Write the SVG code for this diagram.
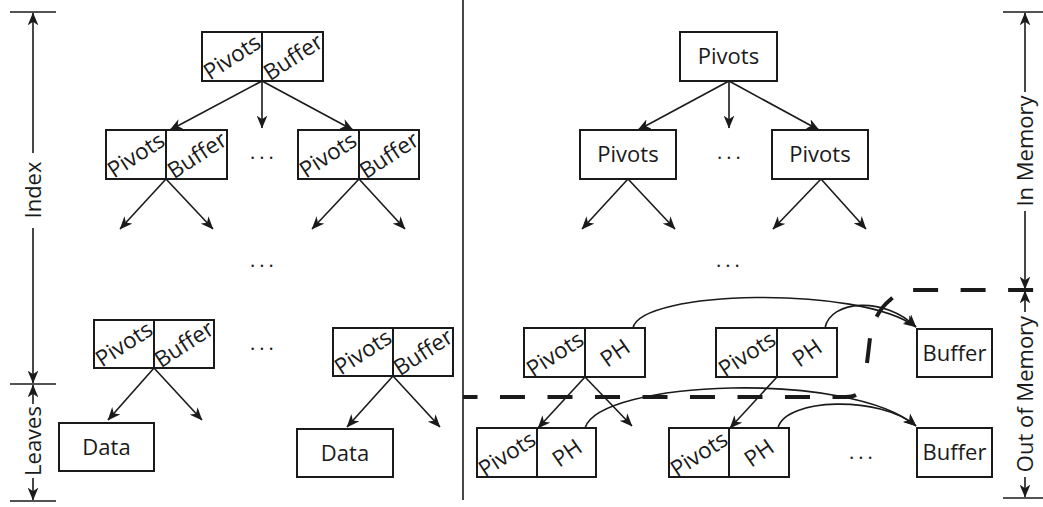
<svg xmlns="http://www.w3.org/2000/svg" width="1043" height="507" viewBox="0 0 1043 507">
  <defs>
    <marker id="arrow" viewBox="0 0 12 10" refX="11.5" refY="5" markerWidth="13" markerHeight="11" markerUnits="userSpaceOnUse" orient="auto">
      <path d="M0,0 L12,5 L0,10 L3.5,5 Z" fill="#1a1a1a"/>
    </marker>
    <style>
      .box { fill: #fff; stroke: #1a1a1a; stroke-width: 2; }
      .div { stroke: #1a1a1a; stroke-width: 2; }
      .edge { fill: none; stroke: #1a1a1a; stroke-width: 1.6; marker-end: url(#arrow); }
      .rule { fill: none; stroke: #1a1a1a; stroke-width: 1.6; }
      .dash { fill: none; stroke: #1a1a1a; stroke-width: 4; stroke-dasharray: 25 22.5; }
      .t { font-family: "Open Sans", "Liberation Sans", sans-serif; font-size: 22px; fill: #1a1a1a; text-anchor: middle; }
      .r { font-size: 22.5px; }
      .lbl { font-family: "Open Sans", "Liberation Sans", sans-serif; font-size: 22px; fill: #1a1a1a; text-anchor: middle; }
      .dots { font-family: "Open Sans", "Liberation Sans", sans-serif; font-size: 20px; fill: #1a1a1a; text-anchor: middle; letter-spacing: 4px; }
    </style>
  </defs>

  <!-- separator between the two layouts -->
  <line class="rule" x1="463" y1="0" x2="463" y2="500" stroke-width="2"/>

  <!-- left scale: Index / Leaves -->
  <g id="scale-left">
    <line class="rule" x1="10" y1="12" x2="56" y2="12"/>
    <line class="rule" x1="10" y1="384" x2="56" y2="384"/>
    <line class="rule" x1="10" y1="501" x2="56" y2="501"/>
    <line class="edge" x1="33" y1="153" x2="33" y2="13"/>
    <line class="edge" x1="33" y1="228" x2="33" y2="383"/>
    <line class="edge" x1="33" y1="404" x2="33" y2="385"/>
    <line class="edge" x1="33" y1="478" x2="33" y2="500"/>
    <text class="lbl" transform="translate(41,190) rotate(-90)">Index</text>
    <text class="lbl" transform="translate(41,441) rotate(-90)">Leaves</text>
  </g>

  <!-- right scale: In Memory / Out of Memory -->
  <g id="scale-right">
    <line class="rule" x1="1003" y1="12" x2="1043" y2="12"/>
    <line class="rule" x1="1003" y1="498" x2="1043" y2="498"/>
    <line class="edge" x1="1025" y1="92" x2="1025" y2="13"/>
    <line class="edge" x1="1025" y1="211" x2="1025" y2="289"/>
    <line class="edge" x1="1025" y1="312" x2="1025" y2="291"/>
    <line class="edge" x1="1025" y1="477" x2="1025" y2="497"/>
    <text class="lbl" transform="translate(1033,151) rotate(-90)">In Memory</text>
    <text class="lbl" transform="translate(1033,394) rotate(-90)">Out of Memory</text>
  </g>

  <!-- memory boundary -->
  <g id="memory-boundary">
    <path class="dash" stroke-dashoffset="10.5" d="M463,397 L846,397 Q852,397 856,395"/>
    <path class="dash" stroke-dasharray="23 22" d="M867,363 L870,338 C872,322 880,308 890,300 C896,294 903,290 912,290 L1043,290"/>
  </g>

  <!-- connectors -->
  <g id="connectors">
    <!-- left tree -->
    <line class="edge" x1="262" y1="81" x2="170" y2="130"/>
    <line class="edge" x1="262" y1="81" x2="262" y2="128"/>
    <line class="edge" x1="262" y1="81" x2="353" y2="130"/>
    <line class="edge" x1="166" y1="179" x2="120" y2="229"/>
    <line class="edge" x1="166" y1="179" x2="213" y2="229"/>
    <line class="edge" x1="359" y1="179" x2="312" y2="229"/>
    <line class="edge" x1="359" y1="179" x2="405" y2="229"/>
    <line class="edge" x1="154" y1="368" x2="108" y2="420"/>
    <line class="edge" x1="154" y1="368" x2="202" y2="420"/>
    <line class="edge" x1="393" y1="376" x2="347" y2="427"/>
    <line class="edge" x1="393" y1="376" x2="440" y2="427"/>
    <!-- right tree -->
    <line class="edge" x1="729" y1="81" x2="638" y2="130"/>
    <line class="edge" x1="729" y1="81" x2="729" y2="128"/>
    <line class="edge" x1="729" y1="81" x2="819" y2="130"/>
    <line class="edge" x1="628" y1="179" x2="582" y2="229"/>
    <line class="edge" x1="628" y1="179" x2="675" y2="229"/>
    <line class="edge" x1="821" y1="179" x2="773" y2="229"/>
    <line class="edge" x1="821" y1="179" x2="866" y2="229"/>
    <line class="edge" x1="585" y1="377" x2="538" y2="428"/>
    <line class="edge" x1="585" y1="377" x2="632" y2="426"/>
    <line class="edge" x1="777" y1="377" x2="730" y2="428"/>
    <!-- placeholders to buffers -->
    <path class="edge" d="M633,328 C640,290 860,285 916,327"/>
    <path class="edge" d="M825,328 C830,300 885,296 916,327"/>
    <path class="edge" d="M585,428 C600,380 850,370 916,426"/>
    <path class="edge" d="M778,428 C785,398 880,395 916,426"/>
  </g>

  <!-- left layout nodes -->
  <g id="root-left">
    <rect class="box" x="202" y="32" width="121" height="49"/>
    <line class="div" x1="262" y1="32" x2="262" y2="81"/>
    <text class="t r" transform="translate(232,57) rotate(-33)" dy="0.35em">Pivots</text>
    <text class="t r" transform="translate(293,57) rotate(-33)" dy="0.35em">Buffer</text>
  </g>
  <g id="mid-left-a">
    <rect class="box" x="106" y="130" width="121" height="49"/>
    <line class="div" x1="166" y1="130" x2="166" y2="179"/>
    <text class="t r" transform="translate(136,155) rotate(-33)" dy="0.35em">Pivots</text>
    <text class="t r" transform="translate(197,155) rotate(-33)" dy="0.35em">Buffer</text>
  </g>
  <g id="mid-left-b">
    <rect class="box" x="298" y="130" width="121" height="49"/>
    <line class="div" x1="359" y1="130" x2="359" y2="179"/>
    <text class="t r" transform="translate(328,155) rotate(-33)" dy="0.35em">Pivots</text>
    <text class="t r" transform="translate(389,155) rotate(-33)" dy="0.35em">Buffer</text>
  </g>
  <g id="low-left-a">
    <rect class="box" x="94" y="320" width="120" height="48"/>
    <line class="div" x1="154" y1="320" x2="154" y2="368"/>
    <text class="t r" transform="translate(124,344) rotate(-33)" dy="0.35em">Pivots</text>
    <text class="t r" transform="translate(184,344) rotate(-33)" dy="0.35em">Buffer</text>
  </g>
  <g id="low-left-b">
    <rect class="box" x="333" y="328" width="120" height="48"/>
    <line class="div" x1="393" y1="328" x2="393" y2="376"/>
    <text class="t r" transform="translate(363,352) rotate(-33)" dy="0.35em">Pivots</text>
    <text class="t r" transform="translate(423,352) rotate(-33)" dy="0.35em">Buffer</text>
  </g>
  <g id="data-a">
    <rect class="box" x="59" y="423" width="95" height="48"/>
    <text class="t" x="106.5" y="447" dy="0.35em">Data</text>
  </g>
  <g id="data-b">
    <rect class="box" x="297" y="429" width="96" height="48"/>
    <text class="t" x="345" y="453" dy="0.35em">Data</text>
  </g>

  <!-- right layout nodes -->
  <g id="root-right">
    <rect class="box" x="680" y="32" width="97" height="49"/>
    <text class="t" x="728.5" y="56.5" dy="0.35em">Pivots</text>
  </g>
  <g id="mid-right-a">
    <rect class="box" x="580" y="130" width="96" height="49"/>
    <text class="t" x="628" y="154.5" dy="0.35em">Pivots</text>
  </g>
  <g id="mid-right-b">
    <rect class="box" x="772" y="130" width="96" height="49"/>
    <text class="t" x="820" y="154.5" dy="0.35em">Pivots</text>
  </g>
  <g id="ph-1a">
    <rect class="box" x="524" y="328" width="121" height="49"/>
    <line class="div" x1="585" y1="328" x2="585" y2="377"/>
    <text class="t r" transform="translate(555,354) rotate(-33)" dy="0.35em">Pivots</text>
    <text class="t r" transform="translate(615,353) rotate(-35)" dy="0.35em">PH</text>
  </g>
  <g id="ph-1b">
    <rect class="box" x="716" y="328" width="121" height="49"/>
    <line class="div" x1="777" y1="328" x2="777" y2="377"/>
    <text class="t r" transform="translate(747,354) rotate(-33)" dy="0.35em">Pivots</text>
    <text class="t r" transform="translate(807,353) rotate(-35)" dy="0.35em">PH</text>
  </g>
  <g id="buffer-1">
    <rect class="box" x="917" y="329" width="75" height="48"/>
    <text class="t" x="954.5" y="353" dy="0.35em">Buffer</text>
  </g>
  <g id="ph-2a">
    <rect class="box" x="477" y="428" width="119" height="49"/>
    <line class="div" x1="537" y1="428" x2="537" y2="477"/>
    <text class="t r" transform="translate(507,454) rotate(-33)" dy="0.35em">Pivots</text>
    <text class="t r" transform="translate(567,453) rotate(-35)" dy="0.35em">PH</text>
  </g>
  <g id="ph-2b">
    <rect class="box" x="669" y="428" width="120" height="49"/>
    <line class="div" x1="729" y1="428" x2="729" y2="477"/>
    <text class="t r" transform="translate(699,454) rotate(-33)" dy="0.35em">Pivots</text>
    <text class="t r" transform="translate(759,453) rotate(-35)" dy="0.35em">PH</text>
  </g>
  <g id="buffer-2">
    <rect class="box" x="917" y="428" width="75" height="49"/>
    <text class="t" x="954.5" y="452.5" dy="0.35em">Buffer</text>
  </g>

  <!-- elided siblings -->
  <g id="ellipses">
    <text class="dots" x="264" y="159">...</text>
    <text class="dots" x="264" y="267">...</text>
    <text class="dots" x="264" y="350">...</text>
    <text class="dots" x="731" y="159">...</text>
    <text class="dots" x="730" y="267">...</text>
    <text class="dots" x="863" y="459">...</text>
  </g>
</svg>
